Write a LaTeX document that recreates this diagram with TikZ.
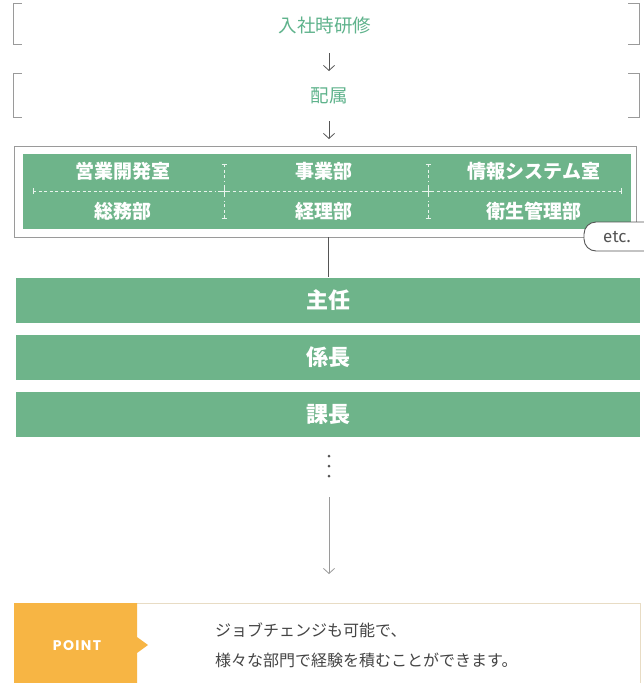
\documentclass[tikz,border=0pt]{standalone}
\usepackage{fontspec}
\setmainfont{Noto Sans CJK JP}
\newfontfamily\latinsans{Poppins}
\newfontfamily\etcfont{Fira Sans}
\usetikzlibrary{arrows.meta}
\definecolor{grn}{HTML}{6EB48A}
\definecolor{grntxt}{HTML}{5FB38C}
\definecolor{lgray}{HTML}{9A9A9A}
\definecolor{dgray}{HTML}{555555}
\definecolor{org}{HTML}{F7B544}
\definecolor{tan}{HTML}{E8DCC4}
\tikzset{
  brk/.style={minimum width=625pt, minimum height=40pt, inner sep=0pt},
  brkline/.style={draw=lgray, line width=0.9pt},
  headtxt/.style={text=grntxt, font=\fontsize{18.5}{20}\selectfont, inner sep=0pt},
  arr/.style={draw=dgray, line width=0.8pt, -{Straight Barb[length=5pt,width=11pt,line width=0.8pt]}},
  cell/.style={text=white, font=\bfseries\fontsize{19}{22}\selectfont, inner sep=0pt},
  bar/.style={fill=grn, minimum width=624pt, minimum height=45pt, inner sep=0pt, text=white, font=\bfseries\fontsize{22}{24}\selectfont},
  divd/.style={draw=white!85!grn, line width=0.8pt, dash pattern=on 3pt off 2.5pt},
  divs/.style={draw=white!85!grn, line width=0.8pt},
  ln/.style={draw=dgray, line width=0.8pt},
  bodytxt/.style={text=dgray!80!black, font=\fontsize{16}{18}\selectfont, inner sep=0pt, anchor=west},
}
\begin{document}
\begin{tikzpicture}[x=1pt,y=-1pt]
\useasboundingbox (0,0) rectangle (643,683);
\fill[white] (0,0) rectangle (643,683);

% bracket rows
\node[brk] (b1) at (326.5,24) {};
\node[headtxt] (t1) at (325,25) {入社時研修};
\draw[brkline] ([xshift=8pt]b1.north west) -- (b1.north west) -- (b1.south west) -- ++(8,0);
\draw[brkline] ([xshift=-11pt]b1.north east) -- (b1.north east) -- (b1.south east) -- ++(-11,0);

\node[brk, minimum height=43pt] (b2) at (326.5,95.5) {};
\node[headtxt] (t2) at (329,96) {配属};
\draw[brkline] ([xshift=8pt]b2.north west) -- (b2.north west) -- (b2.south west) -- ++(8,0);
\draw[brkline] ([xshift=-11pt]b2.north east) -- (b2.north east) -- (b2.south east) -- ++(-11,0);

\coordinate (a1s) at (329,53);
\coordinate (a1e) at (329,71);
\draw[arr] (a1s) -- (a1e);
\coordinate (a2s) at (329,121);
\coordinate (a2e) at (329,139);
\draw[arr] (a2s) -- (a2e);

% department frame
\node[draw=lgray, line width=0.9pt, minimum width=622pt, minimum height=91pt, inner sep=0pt] (frame) at (325,191.5) {};
\node[fill=grn, minimum width=608pt, minimum height=75pt, inner sep=0pt] (grid) at (327,191) {};

\node[cell] (c11) at (123,171) {営業開発室};
\node[cell] (c12) at (324,171) {事業部};
\node[cell] (c13) at (534,171) {情報システム室};
\node[cell] (c21) at (123,211) {総務部};
\node[cell] (c22) at (324,211) {経理部};
\node[cell] (c23) at (534,211) {衛生管理部};

% dividers
\foreach \xx in {224,428}{
  \draw[divd] (\xx,164) -- (\xx,181);
  \draw[divs] (\xx-2.5,164) -- (\xx+2.5,164);
  \draw[divd] (\xx,218) -- (\xx,201);
  \draw[divs] (\xx-2.5,218) -- (\xx+2.5,218);
  \draw[divs] (\xx-6,191) -- (\xx+6,191);
  \draw[divs] (\xx,185) -- (\xx,197);
}
\draw[divd] (33,191) -- (215,191);
\draw[divd] (233,191) -- (419,191);
\draw[divd] (437,191) -- (621,191);
\draw[divs] (33,188) -- (33,194);
\draw[divs] (621,188) -- (621,194);

% etc bubble
\draw[draw=dgray, line width=0.9pt, fill=white, rounded corners=12pt] (660,222) -- (584,222) -- (584,251) -- (660,251);
\node[text=dgray, font=\etcfont\fontsize{17}{19}\selectfont, inner sep=0pt] (etc) at (617,237) {etc.};

% level bars
\node[bar] (r1) at (328,300) {主任};
\node[bar] (r2) at (328,357) {係長};
\node[bar] (r3) at (328,414.5) {課長};
\draw[ln] (r1.north |- frame.south) -- (r1.north);

% continuation
\foreach \yy in {456,466,476} \fill[dgray] (329,\yy) circle (1.5pt);
\coordinate (a3s) at (329,497);
\coordinate (a3e) at (329,574);
\draw[arr, draw=lgray] (a3s) -- (a3e);

% point box
\draw[draw=tan, line width=0.9pt, fill=white] (137,603) -- (640,603) -- (640,690);
\fill[org] (14,603) -- (137,603) -- (137,637) -- (148,645) -- (137,653) -- (137,690) -- (14,690) -- cycle;
\node[text=white, font=\latinsans\bfseries\fontsize{14}{16}\selectfont, inner sep=0pt] (pt) at (77,646) {\addfontfeatures{LetterSpace=10}POINT};
\node[bodytxt] (l1) at (215,630) {ジョブチェンジも可能で、};
\node[bodytxt] (l2) at (215,660) {様々な部門で経験を積むことができます。};
\end{tikzpicture}
\end{document}
